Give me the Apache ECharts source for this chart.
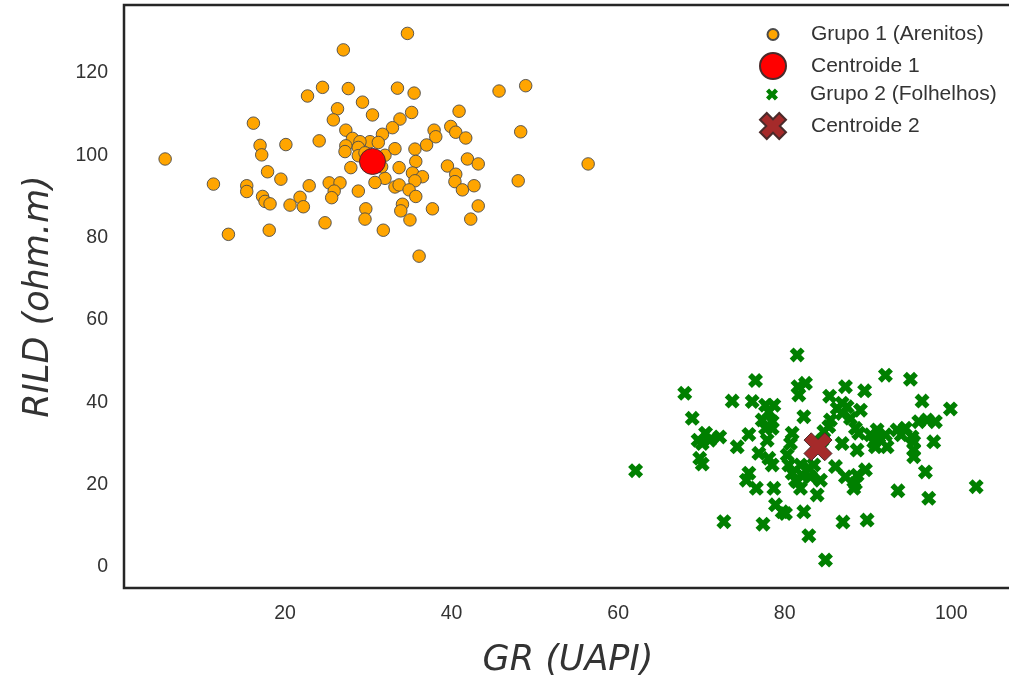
<!DOCTYPE html>
<html>
<head>
<meta charset="utf-8">
<script src="https://cdn.jsdelivr.net/npm/echarts@6/dist/echarts.min.js"></script>
<style>
  html, body { margin: 0; padding: 0; background: #fff; }
  #chart { width: 1009px; height: 679px; }
</style>
</head>
<body>
<div id="chart"></div>
<script>
// Group 1 (sandstones): [GR, RILD]
const grupo1 = [
  [27.0,125.6],[24.5,116.5],[27.6,116.2],[22.7,114.4],[29.3,112.9],[26.3,111.3],[25.8,108.6],
  [16.2,107.8],[27.3,106.1],[28.1,104.1],[17.0,102.4],[20.1,102.6],[24.1,103.5],[30.5,109.8],
  [34.7,129.6],[33.5,116.3],[35.5,115.1],[45.7,115.6],[48.9,116.9],[35.2,110.4],[33.8,108.8],
  [40.9,110.7],[32.9,106.7],[31.7,105.1],[39.9,107.0],[37.9,106.1],[40.5,105.6],[38.1,104.5],
  [41.7,104.2],[48.3,105.7],[37.0,102.5],[35.6,101.5],[30.2,103.3],[31.2,103.1],[29.0,103.3],
  [5.6,99.1],[17.2,100.1],[27.3,102.3],[27.2,100.9],[28.8,101.9],[28.8,99.9],[27.9,97.0],
  [17.9,96.0],[19.5,94.2],[11.4,93.0],[15.4,92.6],[15.4,91.2],[22.9,92.6],[25.3,93.3],
  [26.6,93.3],[25.9,91.3],[25.6,89.7],[28.8,91.3],[17.3,90.0],[17.6,88.8],[18.2,88.2],
  [21.8,89.8],[20.6,87.9],[22.2,87.5],[29.7,87.0],[29.6,84.5],[24.8,83.6],[13.2,80.8],
  [18.1,81.8],[41.9,99.1],[43.2,97.9],[39.5,97.4],[40.5,95.4],[40.4,93.6],[41.3,91.6],
  [42.7,92.6],[35.7,98.5],[33.7,97.0],[35.3,95.7],[36.5,94.8],[35.6,93.8],[32.0,94.4],
  [30.8,93.4],[33.2,92.3],[33.7,92.8],[34.9,91.6],[35.7,90.0],[34.1,88.1],[33.9,86.5],
  [35.0,84.3],[37.7,87.0],[31.8,81.8],[36.1,75.5],[43.2,87.7],[42.3,84.5],[48.0,93.8],
  [56.4,97.9],[32.0,100.0],[29.6,100.6],[31.6,97.2],[33.2,101.6]
];

// Group 2 (shales): [GR, RILD]
const grupo2 = [
  [81.5,51.5],[76.5,45.3],[68.0,42.2],[73.7,40.3],[76.1,40.2],[81.6,43.8],[81.7,41.8],
  [68.9,36.1],[77.7,39.3],[78.7,39.3],[78.1,37.7],[77.3,35.7],[78.5,35.3],[77.7,33.7],
  [78.5,33.7],[70.5,32.5],[69.6,30.8],[71.0,30.8],[72.2,31.6],[70.1,30.0],[75.7,32.2],
  [74.3,29.2],[80.9,32.5],[80.7,30.0],[82.3,36.5],[77.9,30.8],[76.9,27.6],[69.8,26.4],
  [92.1,46.6],[95.1,45.6],[87.3,43.8],[89.6,42.8],[82.5,44.6],[85.4,41.5],[96.5,40.3],
  [99.9,38.4],[86.9,39.8],[86.3,38.5],[87.5,38.9],[86.9,37.3],[89.1,38.1],[87.9,36.1],
  [85.5,35.7],[85.3,34.1],[88.5,33.7],[88.9,32.5],[91.1,33.3],[90.3,32.1],[91.3,31.6],
  [90.7,30.4],[92.1,32.1],[93.5,33.3],[94.5,33.7],[94.0,32.1],[95.3,31.6],[96.1,35.3],
  [97.1,35.7],[98.1,35.3],[84.7,32.9],[84.5,30.8],[86.9,30.0],[88.7,28.4],[95.5,30.4],
  [95.5,28.4],[97.9,30.4],[90.9,29.2],[92.3,29.2],[62.1,23.4],[70.1,25.0],[78.1,26.4],
  [78.5,24.8],[80.3,27.2],[80.5,24.8],[75.7,22.8],[75.4,21.1],[76.6,19.1],[78.7,19.1],
  [80.9,22.8],[81.5,20.7],[81.9,19.1],[78.9,15.1],[79.7,13.4],[80.1,13.0],[82.3,13.4],
  [72.7,11.0],[77.4,10.4],[95.5,26.8],[96.9,23.1],[81.9,24.8],[82.9,24.0],[83.5,24.8],
  [82.1,22.3],[83.1,21.9],[84.3,21.1],[81.3,21.1],[86.1,24.4],[87.3,21.9],[88.7,22.3],
  [89.7,23.6],[88.5,20.3],[88.3,19.1],[83.9,17.5],[93.6,18.5],[97.3,16.7],[103.0,19.5],
  [87.0,10.9],[89.9,11.4],[82.9,7.6],[84.9,1.7]
];

// Cluster centroids
const centroide1 = [[30.5, 98.5]];
const centroide2 = [[84.0, 29.2]];

// Axis ticks
const xTicks = [20, 40, 60, 80, 100];
const yTicks = [0, 20, 40, 60, 80, 100, 120];

const seriesNames = ['Grupo 1 (Arenitos)', 'Centroide 1', 'Grupo 2 (Folhelhos)', 'Centroide 2'];

// Filled "X" marker
const xMarker = 'path://M0,2.6L2.6,0L5,2.4L7.4,0L10,2.6L7.6,5L10,7.4L7.4,10L5,7.6L2.6,10L0,7.4L2.4,5Z';

const textColor = '#333333';
const font = "'Liberation Sans', Arial, sans-serif";
const titleFont = "'DejaVu Sans', sans-serif";

// One legend block per entry so each icon keeps its own size
function legendFor(name, size, centerY) {
  const h = Math.max(size, 22);
  return {
    data: [name],
    left: 772 - size / 2,
    top: centerY - h / 2,
    padding: 0,
    itemWidth: 66,
    itemHeight: size,
    symbolKeepAspect: true,
    selectedMode: false,
    textStyle: { fontSize: 21, color: textColor, fontFamily: font }
  };
}

const chart = echarts.init(document.getElementById('chart'), null, { renderer: 'canvas' });

chart.setOption({
  animation: false,
  backgroundColor: '#ffffff',
  grid: {
    left: 124, top: 5, right: -3, bottom: 91,
    outerBoundsMode: 'none',
    containLabel: false,
    show: true,
    borderColor: '#262626',
    borderWidth: 2.5,
    backgroundColor: 'transparent'
  },
  legend: [
    legendFor(seriesNames[0], 11, 35),
    legendFor(seriesNames[1], 26, 65),
    legendFor(seriesNames[2], 12, 95),
    legendFor(seriesNames[3], 26, 125)
  ],
  xAxis: {
    type: 'value',
    min: 0.66,
    max: 107.3,
    name: 'GR (UAPI)',
    nameLocation: 'middle',
    nameGap: 55,
    nameTextStyle: { fontSize: 35, fontStyle: 'italic', color: textColor, fontFamily: titleFont },
    axisLine: { show: false },
    axisTick: { show: false },
    splitLine: { show: false },
    axisLabel: { customValues: xTicks, fontSize: 19.5, color: textColor, fontFamily: font, margin: 16 }
  },
  yAxis: {
    type: 'value',
    min: -5.1,
    max: 136.5,
    name: 'RILD (ohm.m)',
    nameLocation: 'middle',
    nameGap: 68,
    nameTextStyle: { fontSize: 35, fontStyle: 'italic', color: textColor, fontFamily: titleFont },
    axisLine: { show: false },
    axisTick: { show: false },
    splitLine: { show: false },
    axisLabel: { customValues: yTicks, fontSize: 19.5, color: textColor, fontFamily: font, margin: 16 }
  },
  series: [
    {
      name: seriesNames[0], type: 'scatter', data: grupo1, symbol: 'circle', symbolSize: 12.5,
      itemStyle: { color: '#FFA500', borderColor: '#4a4a4a', borderWidth: 0.9, opacity: 1 },
      z: 2
    },
    {
      name: seriesNames[1], type: 'scatter', data: centroide1, symbol: 'circle', symbolSize: 26,
      itemStyle: { color: '#FF0000', borderColor: '#4a2a2a', borderWidth: 1, opacity: 1 },
      z: 3
    },
    {
      name: seriesNames[2], type: 'scatter', data: grupo2, symbol: xMarker, symbolSize: 15,
      symbolKeepAspect: true,
      itemStyle: { color: '#008000', borderWidth: 0, opacity: 1 },
      z: 4
    },
    {
      name: seriesNames[3], type: 'scatter', data: centroide2, symbol: xMarker, symbolSize: 28,
      symbolKeepAspect: true,
      itemStyle: { color: '#A52A2A', borderColor: '#4a2a2a', borderWidth: 1, opacity: 1 },
      z: 5
    }
  ]
});
</script>
</body>
</html>
